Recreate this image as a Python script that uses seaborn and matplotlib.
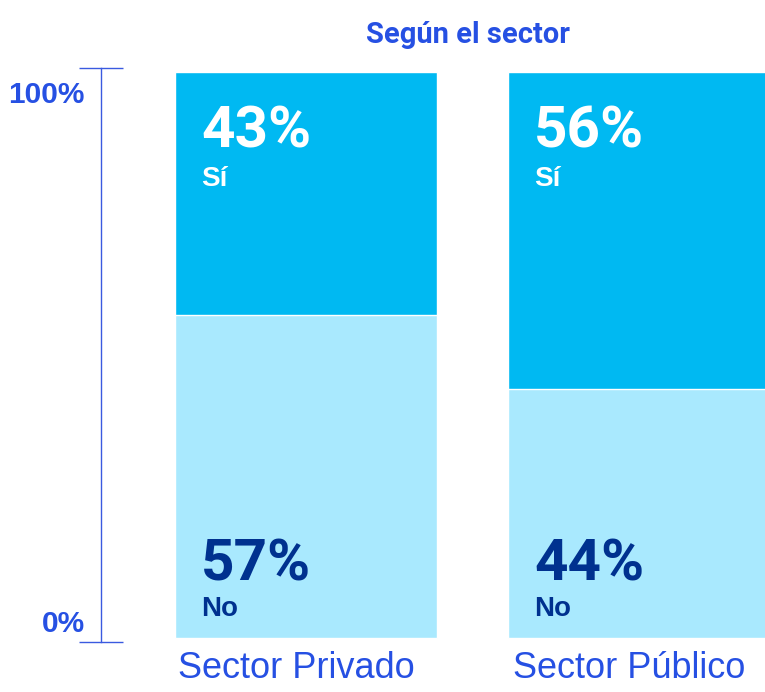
import pandas as pd
import matplotlib.pyplot as plt
import seaborn as sns
from matplotlib.transforms import ScaledTranslation

# data
sectors = ['Sector Privado', 'Sector Público']
si_pct = [43, 56]
no_pct = [57, 44]

sns.set_style('white')
plt.rcParams['font.family'] = ['Liberation Sans', 'DejaVu Sans']

blue_txt = '#2650e3'
si_col = '#00b9f2'
no_col = '#a9e9fe'
navy = '#00318f'
cond = ['Roboto', 'DejaVu Sans']

df = pd.DataFrame({'sector': sectors, 'si': si_pct, 'no': no_pct})
df['total'] = df['si'] + df['no']

fig = plt.figure(figsize=(7.65, 6.92), dpi=100)
ax = fig.add_axes([0.132, 0.0723, 0.868, 0.8295])

bw = 0.787
# full bar in Sí colour, then the No part on top of it from zero
sns.barplot(data=df, x='sector', y='total', color=si_col, width=bw,
            saturation=1, ax=ax)
sns.barplot(data=df, x='sector', y='no', color=no_col, width=bw,
            saturation=1, ax=ax)

ax.set_xlim(-0.616, 1.378)
ax.set_ylim(-0.707, 100.707)

for i, row in df.iterrows():
    x0 = i - bw / 2 + 0.078
    ax.text(x0, row['total'] - 13.4, f"{row['si']}%", color='white',
            fontsize=42, fontweight='bold', family=cond,
            ha='left', va='baseline')
    ax.text(x0, row['total'] - 20.1, 'Sí', color='white', fontsize=20,
            fontweight='bold', ha='left', va='baseline')
    ax.text(x0, 10.2, f"{row['no']}%", color=navy, fontsize=42,
            fontweight='bold', family=cond, ha='left', va='baseline')
    ax.text(x0, 3.9, 'No', color=navy, fontsize=20, fontweight='bold',
            ha='left', va='baseline')

# left scale line with end ticks
for s in ['top', 'right', 'bottom']:
    ax.spines[s].set_visible(False)
ax.spines['left'].set_color('#3a5ae0')
ax.spines['left'].set_linewidth(1)
ax.set_yticks(list(ax.get_ylim()))
ax.set_yticklabels([])
ax.tick_params(axis='y', direction='inout', length=31, width=1, color='#3a5ae0', left=True)
ax.text(-0.664, 96.0, '100%', color=blue_txt, fontsize=21.5, fontweight='bold',
        ha='right', va='center', clip_on=False)
ax.text(-0.664, 2.5, '0%', color=blue_txt, fontsize=21.5, fontweight='bold',
        ha='right', va='center', clip_on=False)

ax.set_xlabel('')
ax.set_ylabel('')
ax.tick_params(axis='x', length=0, pad=6.5, labelsize=26, labelcolor=blue_txt)
shift = ScaledTranslation(-0.1, 0, fig.dpi_scale_trans)
for lbl in ax.get_xticklabels():
    lbl.set_transform(lbl.get_transform() + shift)

fig.text(468 / 765, 1 - 35 / 692, 'Según el sector', color=blue_txt, fontsize=21,
         fontweight='bold', family=cond, ha='center', va='center')

fig.savefig('out.png', dpi=100)
